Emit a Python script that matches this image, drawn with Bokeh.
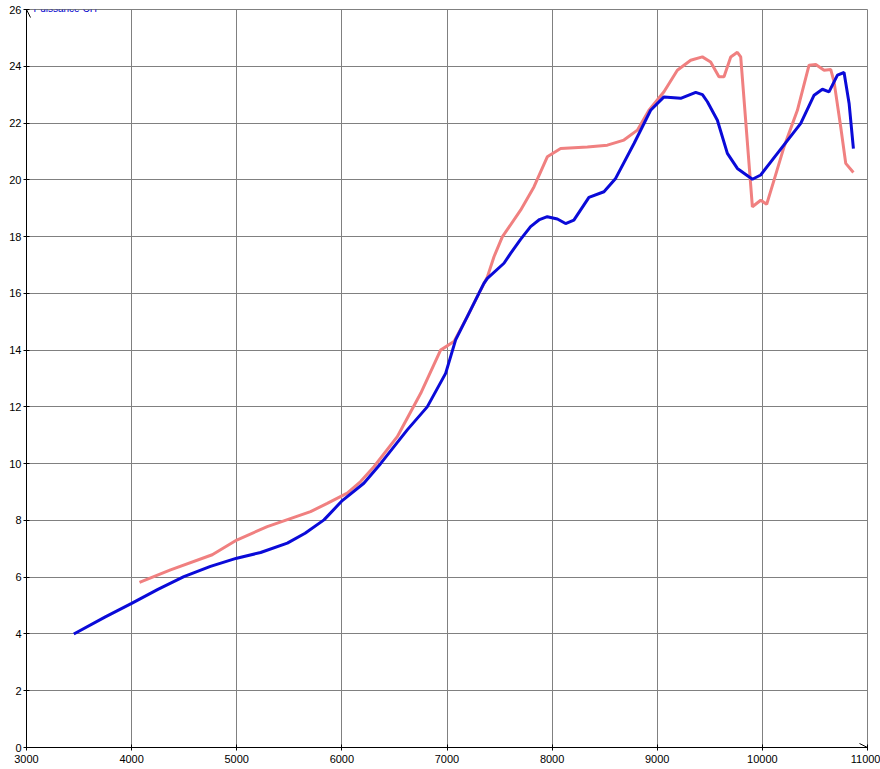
from bokeh.plotting import figure
from bokeh.models import Range1d, FixedTicker, Arrow, OpenHead, Label
from bokeh.embed import file_html
from bokeh.resources import INLINE

# ---- data ----
title_text = "Puissance CH"
x_ticks = [3000, 4000, 5000, 6000, 7000, 8000, 9000, 10000, 11000]
y_ticks = [0, 2, 4, 6, 8, 10, 12, 14, 16, 18, 20, 22, 24, 26]

blue_rpm = [3450, 3750, 4000, 4250, 4497, 4750, 5000, 5227, 5481, 5650, 5830, 6004, 6209, 6368,
            6622, 6812, 6987, 7082, 7193, 7351, 7384, 7542, 7605, 7700, 7795, 7880, 7954,
            8050, 8128, 8207, 8350, 8493, 8604, 8779, 8937, 9064, 9223, 9366, 9430, 9477, 9572,
            9667, 9762, 9905, 9984, 10143, 10365, 10492, 10571, 10634, 10714, 10777,
            10825, 10866]
blue_hp = [4.0, 4.6, 5.08, 5.57, 6.02, 6.38, 6.67, 6.87, 7.2, 7.55, 8.02, 8.7, 9.31, 10.0,
           11.19, 12.0, 13.18, 14.36, 15.18, 16.35, 16.53, 17.06, 17.41, 17.9, 18.35, 18.6, 18.7,
           18.62, 18.46, 18.58, 19.38, 19.58, 20.05, 21.28, 22.45, 22.92, 22.87, 23.08, 23.0, 22.75, 22.1,
           20.93, 20.4, 20.02, 20.17, 20.93, 21.99, 22.98, 23.19, 23.1, 23.69, 23.78,
           22.69, 21.1]

pink_rpm = [4075, 4370, 4767, 5000, 5290, 5702, 5861, 6051, 6178, 6305, 6527, 6750,
            6939, 7066, 7193, 7320, 7384, 7447, 7526, 7700, 7827, 7954, 8081, 8335,
            8525, 8683, 8811, 8921, 9064, 9191, 9318, 9429, 9508, 9587, 9635, 9699,
            9762, 9794, 9905, 9984, 10041, 10111, 10206, 10333, 10444, 10508, 10587,
            10650, 10682, 10745, 10793, 10866]
pink_hp = [5.82, 6.26, 6.79, 7.31, 7.78, 8.31, 8.6, 8.96, 9.37, 9.89, 10.95, 12.48,
           14.0, 14.3, 15.18, 16.12, 16.58, 17.29, 17.99, 18.93, 19.75, 20.81, 21.1, 21.16,
           21.22, 21.4, 21.75, 22.45, 23.1, 23.86, 24.21, 24.33, 24.15, 23.63, 23.63, 24.33,
           24.49, 24.33, 19.05, 19.28, 19.14, 19.99, 21.16, 22.45, 24.04, 24.06, 23.86,
           23.89, 23.45, 21.87, 20.58, 20.26]

FONT = "Liberation Sans"
FW, FH = 841, 738

p = figure(width=880, height=769, output_backend="svg", toolbar_location=None,
           x_range=Range1d(x_ticks[0], x_ticks[-1]), y_range=Range1d(y_ticks[0], y_ticks[-1]),
           min_border_left=26, min_border_right=13, min_border_top=9, min_border_bottom=22)
p.frame_width = FW
p.frame_height = FH

p.background_fill_color = "white"
p.border_fill_color = "white"
p.outline_line_color = "#808080"
p.outline_line_width = 1

for ax, ticks in ((p.xaxis[0], x_ticks), (p.yaxis[0], y_ticks)):
    ax.ticker = FixedTicker(ticks=ticks)
    ax.axis_line_color = "black"
    ax.axis_line_width = 1
    ax.major_tick_line_color = "black"
    ax.major_tick_in = 3
    ax.major_tick_out = 3
    ax.minor_tick_line_color = None
    ax.major_label_text_font = FONT
    ax.major_label_text_font_size = "11px"
    ax.major_label_text_color = "black"
p.xaxis.major_label_standoff = 4
p.yaxis.major_label_standoff = 2

p.xgrid.grid_line_color = "#808080"
p.ygrid.grid_line_color = "#808080"
p.xgrid.grid_line_alpha = 1.0
p.ygrid.grid_line_alpha = 1.0

p.line(pink_rpm, pink_hp, line_color="#f08080", line_width=3)
p.line(blue_rpm, blue_hp, line_color="#0a0ad8", line_width=3)

# axis arrow heads
p.add_layout(Arrow(x_start=x_ticks[0], y_start=y_ticks[-1] - 0.5, x_end=x_ticks[0], y_end=y_ticks[-1],
                   line_alpha=0, end=OpenHead(size=8, line_color="black", line_width=1)))
p.add_layout(Arrow(x_start=x_ticks[-1] - 100, y_start=y_ticks[0], x_end=x_ticks[-1], y_end=y_ticks[0],
                   line_alpha=0, end=OpenHead(size=8, line_color="black", line_width=1)))

p.add_layout(Label(x=7, y=FH + 1, x_units="screen", y_units="screen", text=title_text,
                   text_font=FONT, text_font_size="10px", text_color="#0000cc",
                   text_baseline="alphabetic"))

open("out.html", "w").write(file_html(p, INLINE))
